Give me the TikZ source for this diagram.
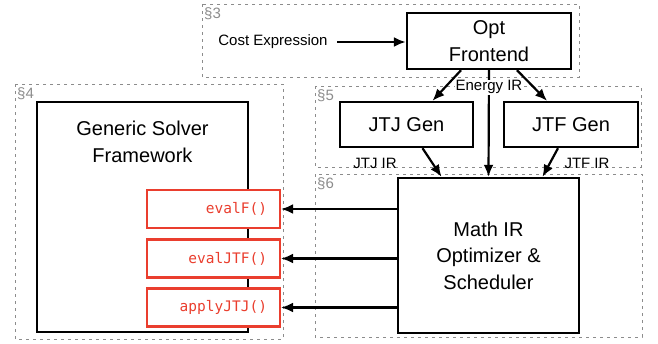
\documentclass[tikz,border=0pt]{standalone}
\usepackage{fontspec}
\setmainfont{Liberation Sans}
\setmonofont{DejaVu Sans Mono}
\usetikzlibrary{arrows.meta}
\definecolor{fnred}{RGB}{234,62,46}
\definecolor{secgray}{RGB}{140,140,140}
\begin{document}
\begin{tikzpicture}[x=1pt, y=-1pt,
  blk/.style={draw, line width=2.4pt, fill=white, font=\fontsize{20}{26.5}\selectfont, align=center},
  fnbox/.style={draw=fnred, line width=2.2pt, fill=white, text=fnred, minimum width=133pt,
    minimum height=38pt, text width=107pt, inner xsep=13pt, align=right, font=\ttfamily\fontsize{14.5}{16}\selectfont},
  sec/.style={draw=secgray, line width=1pt, dash pattern=on 3pt off 4pt},
  seclbl/.style={text=secgray, anchor=north west, inner sep=1pt, font=\fontsize{15}{17}\selectfont},
  lbl/.style={font=\fontsize{15}{17}\selectfont},
  conn/.style={-{Latex[length=12pt,width=10pt]}, line width=2.2pt}]
\useasboundingbox (0,0) rectangle (658,343);
% sections
\draw[sec] (202,4) rectangle (579,77);
\draw[sec] (15,84) rectangle (283,339);
\draw[sec] (315,86) rectangle (641,167);
\draw[sec] (315,174) rectangle (642,337);
\node[seclbl] (s3) at (203,6) {§3};
\node[seclbl] (s4) at (16,86) {§4};
\node[seclbl] (s5) at (316,88) {§5};
\node[seclbl] (s6) at (316,176) {§6};
% boxes
\node[blk, minimum width=164pt, minimum height=56pt] (opt) at (489,41) {Opt\\Frontend};
\node[blk, minimum width=211pt, minimum height=230pt] (gsf) at (142.5,217) {};
\node[align=center, font=\fontsize{20}{26.5}\selectfont] (gsftxt) at (142.5,142) {Generic Solver\\Framework};
\node[blk, minimum width=133pt, minimum height=45pt] (jtj) at (406.5,124.5) {JTJ Gen};
\node[blk, minimum width=134pt, minimum height=45pt] (jtf) at (571,124.5) {JTF Gen};
\node[blk, minimum width=181pt, minimum height=155pt] (math) at (488.5,255.5) {Math IR\\Optimizer \&\\Scheduler};
\node[fnbox] (evalf) at (213.5,209) {evalF()};
\node[fnbox] (evaljtf) at (213.5,258.5) {evalJTF()};
\node[fnbox] (applyjtj) at (213.5,307.5) {applyJTJ()};
\node[lbl] (cost) at (273,42) {Cost Expression};
% connectors
\draw[conn, shorten <=6pt] (cost) -- (opt.west |- cost);
\draw[conn] ([xshift=-28pt]opt.south) -- ([xshift=26pt]jtj.north);
\draw[conn] ([xshift=28pt]opt.south) -- ([xshift=-24pt]jtf.north);
\draw[conn] (opt.south) -- node[lbl, pos=0.16, fill=white, inner sep=1pt] (eir) {Energy IR} (math.north);
\draw[conn] ([xshift=16pt]jtj.south) -- ([xshift=-47pt]math.north);
\draw[conn] ([xshift=-13pt]jtf.south) -- ([xshift=54pt]math.north);
\node[lbl] (jtjir) at (375,163) {JTJ IR};
\node[lbl] (jtfir) at (587,163) {JTF IR};
\draw[conn] (math.west |- evalf) -- (evalf.east);
\draw[conn] (math.west |- evaljtf) -- (evaljtf.east);
\draw[conn] (math.west |- applyjtj) -- (applyjtj.east);
\end{tikzpicture}
\end{document}
